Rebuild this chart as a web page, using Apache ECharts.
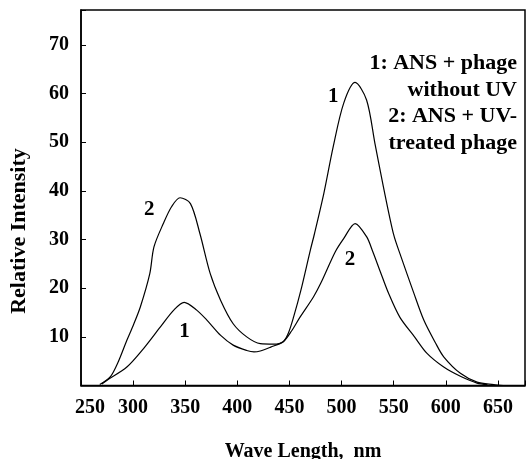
<!DOCTYPE html>
<html>
<head>
<meta charset="utf-8">
<script src="https://cdn.jsdelivr.net/npm/echarts@6/dist/echarts.min.js"></script>
<style>
html,body{margin:0;padding:0;background:#fff;}
#chart{width:527px;height:459px;}
</style>
</head>
<body>
<div id="chart"></div>
<script>
// Curve 1: ANS + phage without UV
var wave1 = [270, 275, 294, 310, 326, 339, 349, 361, 371, 384, 396, 409, 416, 422, 432, 444, 449, 454, 461, 470, 474, 483, 492, 502, 513, 524, 532, 540, 550, 557, 569, 579, 590, 598, 614, 630, 646, 655];
var int1  = [0.3, 1.1, 3.8, 7.6, 12.0, 15.5, 17.1, 15.5, 13.4, 10.3, 8.3, 7.2, 6.9, 7.1, 7.9, 9.0, 10.8, 14.1, 19.6, 27.8, 31.2, 39.5, 49.1, 58.0, 62.3, 58.7, 49.8, 41.0, 31.0, 26.5, 19.2, 13.4, 8.8, 5.9, 2.5, 0.7, 0.2, 0];
// Curve 2: ANS + UV-treated phage
var wave2 = [268, 278, 286, 294, 300, 307, 316, 320, 329, 337, 345, 355, 364, 374, 384, 396, 409, 422, 435, 444, 452, 460, 473, 480, 494, 502, 513, 524, 530, 537, 545, 556, 570, 582, 598, 614, 630, 640];
var int2  = [0.2, 1.75, 5.0, 9.3, 12.3, 16.2, 23.0, 28.5, 33.3, 36.8, 38.6, 37.4, 31.3, 23.0, 17.5, 12.7, 10.0, 8.6, 8.5, 9.0, 11.2, 14.0, 18.2, 21.0, 27.5, 30.2, 33.3, 30.6, 27.5, 23.5, 19.0, 14.0, 10.0, 6.6, 3.8, 1.9, 0.5, 0.2];
// Curve number labels
var labelX = [315.5, 349.4, 492, 508];
var labelY = [36.1, 11.0, 59.5, 25.8];
var labelText = ['2', '1', '1', '2'];
// Axis ticks
var xTicks = [250, 300, 350, 400, 450, 500, 550, 600, 650];
var yTicks = [10, 20, 30, 40, 50, 60, 70];
var legendLines = ['1: ANS + phage', 'without UV', '2: ANS + UV-', 'treated phage'];

var FONT = "'Liberation Serif', 'DejaVu Serif', serif";

function pairs(xs, ys) { return xs.map(function (x, i) { return [x, ys[i]]; }); }

var chart = echarts.init(document.getElementById('chart'), null, {renderer: 'canvas'});
var option = {
  animation: false,
  backgroundColor: '#fff',
  grid: {left: 81, right: 2, top: 10, bottom: 73.5, containLabel: false, outerBoundsMode: 'none',
         show: true, borderColor: '#000', borderWidth: 1.5},
  xAxis: {
    type: 'value', min: 250, max: 676, interval: 50,
    axisLine: {show: true, lineStyle: {color: '#000', width: 1.5}},
    axisTick: {show: true, inside: true, length: 5, lineStyle: {color: '#000'}},
    splitLine: {show: false},
    axisLabel: {
      color: '#000', fontFamily: FONT, fontWeight: 'bold', fontSize: 20, margin: 12,
      formatter: function (v) {
        if (xTicks.indexOf(v) < 0) return '';
        return v === xTicks[0] ? '{first|' + v + '}' : String(v);
      },
      rich: {first: {color: '#000', fontFamily: FONT, fontWeight: 'bold', fontSize: 20, padding: [0, 0, 0, 18]}}
    },
    name: 'Wave Length,  nm', nameLocation: 'middle', nameGap: 56,
    nameTextStyle: {color: '#000', fontFamily: FONT, fontWeight: 'bold', fontSize: 20}
  },
  yAxis: {
    type: 'value', min: 0, max: 77.2, interval: 10,
    axisLine: {show: true, lineStyle: {color: '#000', width: 1.5}},
    axisTick: {show: true, inside: true, length: 5, lineStyle: {color: '#000'}},
    splitLine: {show: false},
    axisLabel: {
      color: '#000', fontFamily: FONT, fontWeight: 'bold', fontSize: 20, margin: 12,
      formatter: function (v) { return yTicks.indexOf(v) >= 0 ? String(v) : ''; }
    }
  },
  graphic: [
    {type: 'text', x: 19, y: 231, rotation: Math.PI / 2,
     style: {text: 'Relative Intensity', fill: '#000', font: 'bold 22px ' + FONT, textAlign: 'center', textVerticalAlign: 'middle'}},
    {type: 'group', children: legendLines.map(function (t, i) {
      return {type: 'text', x: 517, y: 63.5 + i * 26.5,
        style: {text: t, fill: '#000', font: 'bold 22px ' + FONT, textAlign: 'right', textVerticalAlign: 'middle'}};
    })}
  ],
  series: [
    {type: 'line', data: pairs(wave1, int1), smooth: 0.3, showSymbol: false, symbol: 'none',
     lineStyle: {color: '#000', width: 1.2}},
    {type: 'line', data: pairs(wave2, int2), smooth: 0.3, showSymbol: false, symbol: 'none',
     lineStyle: {color: '#000', width: 1.2}},
    {type: 'scatter', symbolSize: 0, itemStyle: {opacity: 1, color: '#000'},
     data: labelX.map(function (x, i) { return {value: [x, labelY[i]], name: labelText[i]}; }),
     label: {show: true, position: 'inside', formatter: function (p) { return p.name; },
       color: '#000', opacity: 1, fontFamily: FONT, fontWeight: 'bold', fontSize: 21}}
  ]
};
chart.setOption(option);
</script>
</body>
</html>
